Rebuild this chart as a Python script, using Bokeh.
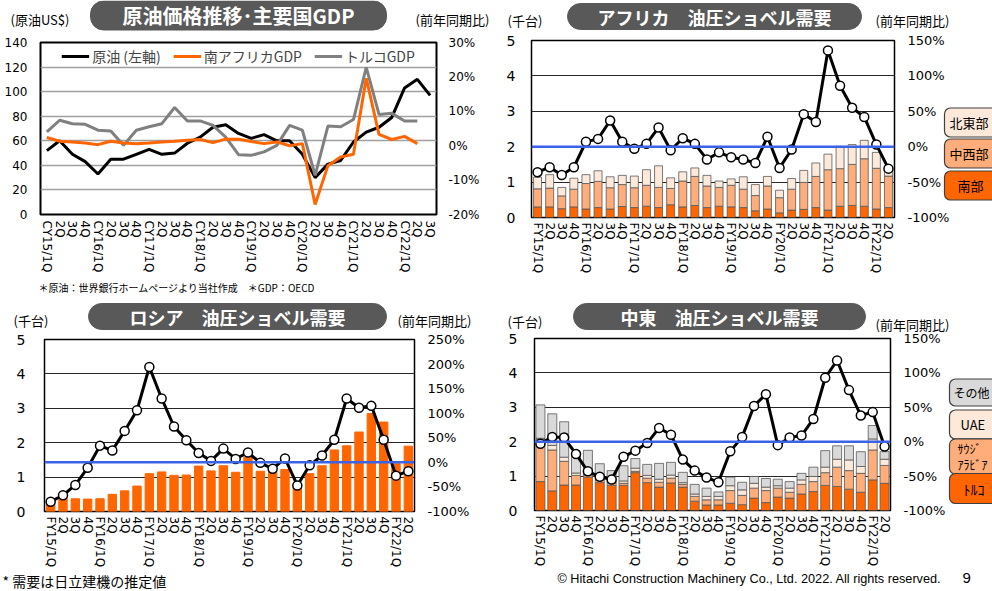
from bokeh.plotting import figure
from bokeh.models import (Range1d, LinearAxis, FixedTicker, PrintfTickFormatter, Label,
                          Span, ColumnDataSource, Legend, LegendItem, GridBox)
from bokeh.embed import file_html
from bokeh.resources import INLINE

NAN = float("nan")
JP = "Noto Sans CJK JP"
NUM = "DejaVu Sans"
PAGE_W, PAGE_H = 992, 591

# ---------------- data ----------------
cy_labels = ["CY15/1Q", "2Q", "3Q", "4Q", "CY16/1Q", "2Q", "3Q", "4Q", "CY17/1Q", "2Q", "3Q", "4Q",
             "CY18/1Q", "2Q", "3Q", "4Q", "CY19/1Q", "2Q", "3Q", "4Q", "CY20/1Q", "2Q", "3Q", "4Q",
             "CY21/1Q", "2Q", "3Q", "4Q", "CY22/1Q", "2Q", "3Q"]
fy_labels = ["FY15/1Q", "2Q", "3Q", "4Q", "FY16/1Q", "2Q", "3Q", "4Q", "FY17/1Q", "2Q", "3Q", "4Q",
             "FY18/1Q", "2Q", "3Q", "4Q", "FY19/1Q", "2Q", "3Q", "4Q", "FY20/1Q", "2Q", "3Q", "4Q",
             "FY21/1Q", "2Q", "3Q", "4Q", "FY22/1Q", "2Q"]

oil_price = [52, 60, 49, 43, 33, 45, 45, 49, 53, 49, 50, 58, 63, 71, 73, 66, 62, 65, 60, 60,
             49, 30, 41, 44, 59, 67, 71, 79, 103, 110, 97]
south_africa_gdp = [2.4, 1.3, 1.1, 0.8, 0.3, 1.3, 0.8, 0.6, 0.8, 1.1, 1.3, 1.6, 1.8, 0.9, 1.9, 1.9,
                    1.2, 0.6, 1.1, 0.0, 0.6, -17.1, -5.8, -3.3, -2.5, 19.6, 3.3, 1.8, 2.7, 0.6, NAN]
turkey_gdp = [4.0, 7.4, 6.4, 6.2, 4.5, 4.3, 0.1, 4.5, 5.5, 6.4, 11.1, 7.2, 7.2, 5.9, 2.5, -2.6,
              -2.8, -1.8, 0.1, 5.9, 4.5, -8.6, 5.7, 5.5, 7.6, 22.8, 9.1, 9.4, 7.2, 7.2, NAN]

af_south = [0.30, 0.30, 0.25, 0.30, 0.24, 0.28, 0.24, 0.31, 0.28, 0.32, 0.28, 0.36, 0.30, 0.34, 0.28,
            0.32, 0.30, 0.28, 0.19, 0.24, 0.13, 0.21, 0.23, 0.28, 0.21, 0.32, 0.34, 0.32, 0.24, 0.28]
af_midwest = [0.51, 0.53, 0.36, 0.50, 0.72, 0.74, 0.60, 0.62, 0.56, 0.59, 0.57, 0.46, 0.73, 0.82, 0.61,
              0.53, 0.61, 0.52, 0.43, 0.65, 0.43, 0.59, 0.76, 0.88, 1.14, 1.06, 1.16, 1.34, 1.15, 0.89]
af_northeast = [0.33, 0.38, 0.24, 0.31, 0.25, 0.30, 0.31, 0.26, 0.33, 0.44, 0.61, 0.30, 0.26, 0.24, 0.30,
                0.18, 0.18, 0.35, 0.31, 0.27, 0.21, 0.30, 0.34, 0.38, 0.44, 0.63, 0.56, 0.52, 0.45, 0.16]
af_yoy = [-36, -29, -40, -29, 7, 11, 37, 7, -3, 4, 27, -5, 12, 4, -18, -8, -15, -18, -23, 14,
          -30, -4, 46, 35, 136, 86, 55, 42, 3, -31]

ru_demand = [0.29, 0.44, 0.37, 0.36, 0.37, 0.50, 0.60, 0.74, 1.10, 1.15, 1.05, 1.06, 1.32, 1.18, 1.33,
             1.14, 1.58, 1.17, 1.17, 1.22, 0.80, 1.10, 1.33, 1.79, 1.91, 2.31, 2.85, 2.60, 1.39, 1.90]
ru_yoy = [-80, -67, -46, -11, 34, 24, 64, 106, 194, 130, 73, 45, 19, 3, 28, 7, 20, -1, -13, 8,
          -47, -6, 14, 46, 130, 111, 115, 46, -27, -18]

me_turkey = [0.84, 0.57, 0.74, 0.74, 0.97, 0.81, 0.73, 0.73, 1.10, 0.81, 0.68, 0.80, 0.68, 0.27, 0.16,
             0.16, 0.21, 0.17, 0.36, 0.23, 0.39, 0.36, 0.48, 0.55, 0.73, 0.70, 0.62, 0.53, 0.89, 0.79]
me_saudi = [1.23, 1.19, 0.69, 0.28, 0.06, 0.08, 0.06, 0.06, 0.04, 0.13, 0.14, 0.14, 0.08, 0.14, 0.15,
            0.15, 0.37, 0.27, 0.29, 0.35, 0.26, 0.17, 0.28, 0.29, 0.37, 0.56, 0.54, 0.55, 0.87, 0.52]
me_uae = [0.03, 0.13, 0.12, 0.07, 0.03, 0.07, 0.05, 0.07, 0.09, 0.08, 0.09, 0.09, 0.05, 0.07, 0.10,
          0.10, 0.14, 0.16, 0.14, 0.10, 0.07, 0.12, 0.13, 0.15, 0.16, 0.23, 0.31, 0.20, 0.32, 0.18]
me_other = [0.97, 0.92, 1.03, 0.59, 0.69, 0.40, 0.32, 0.44, 0.28, 0.32, 0.46, 0.37, 0.30, 0.28, 0.24,
            0.13, 0.25, 0.22, 0.20, 0.25, 0.19, 0.19, 0.19, 0.27, 0.48, 0.39, 0.41, 0.43, 0.39, 0.22]
me_yoy = [-3, 7, 6, -18, -43, -51, -55, -22, -13, -2, 20, 10, -26, -42, -52, -59, -14, 7, 52, 69,
          -5, 6, 9, 33, 93, 118, 75, 38, 43, -7]

ORANGE = "#ff6600"
MIDOR = "#ffad7a"
PEACH = "#fde9d9"
GRAY = "#d9d9d9"
BLUE = "#3a63e8"


def style_axis(ax, size, standoff):
    ax.axis_line_color = None
    ax.major_tick_line_color = None
    ax.minor_tick_line_color = None
    ax.major_tick_out = 0
    ax.major_tick_in = 0
    ax.major_label_text_font = NUM
    ax.major_label_text_font_size = f"{size}px"
    ax.major_label_text_color = "black"
    ax.major_label_standoff = standoff


def base_fig(w, h, bl, br, bt, bb, labels, ymax, ystep, ysize, ystand,
             pmin, pmax, pstep, psize, pstand, grid_color, grid_width, xstand):
    n = len(labels)
    p = figure(width=w, height=h, output_backend="svg", toolbar_location=None,
               x_range=Range1d(-0.5, n - 0.5), y_range=Range1d(0, ymax),
               min_border_left=bl, min_border_right=br, min_border_top=bt, min_border_bottom=bb,
               background_fill_color="white", border_fill_color="white")
    p.frame_align = False
    p.title.visible = False
    p.outline_line_color = "black"
    p.outline_line_width = 1.5
    p.extra_y_ranges = {"pct": Range1d(pmin, pmax)}
    p.xaxis.ticker = FixedTicker(ticks=list(range(n)))
    p.xaxis.major_label_overrides = {i: lab for i, lab in enumerate(labels)}
    p.xaxis.major_label_orientation = "vertical"
    style_axis(p.xaxis[0], 12, xstand)
    yt = []
    v = 0
    while v <= ymax + 1e-9:
        yt.append(v)
        v += ystep
    p.yaxis.ticker = FixedTicker(ticks=yt)
    style_axis(p.yaxis[0], ysize, ystand)
    pt = []
    v = pmin
    while v <= pmax + 1e-9:
        pt.append(v)
        v += pstep
    rax = LinearAxis(y_range_name="pct", ticker=FixedTicker(ticks=pt),
                     formatter=PrintfTickFormatter(format="%d%%"))
    style_axis(rax, psize, pstand)
    p.add_layout(rax, "right")
    p.xgrid.visible = False
    p.ygrid.grid_line_color = grid_color
    p.ygrid.grid_line_width = grid_width
    return p


def yoy_line(p, xs, ys):
    src = ColumnDataSource(dict(x=xs, y=ys))
    p.line("x", "y", source=src, y_range_name="pct", line_color="black", line_width=3)
    p.scatter("x", "y", source=src, y_range_name="pct", marker="circle", size=9,
              fill_color="white", line_color="black", line_width=1.5)


def zero_span(p):
    p.add_layout(Span(location=0, dimension="width", y_range_name="pct",
                      line_color=BLUE, line_width=2.5))


# ---------------- panel 1: oil & GDP ----------------
p1 = base_fig(495, 300, 40, 59, 42, 86, cy_labels, 140, 20, 12, 13, -20, 30, 10, 12, 12,
              "#a0a0a0", 1.5, 6)
p1.outline_line_width = 2
x1 = list(range(len(cy_labels)))
r_oil = p1.line(x1, oil_price, line_color="black", line_width=3)
r_tr = p1.line(x1, turkey_gdp, y_range_name="pct", line_color="#808080", line_width=3)
r_sa = p1.line(x1, south_africa_gdp, y_range_name="pct", line_color=ORANGE, line_width=3)
leg = Legend(items=[LegendItem(label="原油 (左軸)", renderers=[r_oil]),
                    LegendItem(label="南アフリカGDP", renderers=[r_sa]),
                    LegendItem(label="トルコGDP", renderers=[r_tr])],
             location="top_center", orientation="horizontal")
leg.label_text_font = JP
leg.label_text_font_size = "14px"
leg.glyph_width = 28
leg.label_standoff = 3
leg.spacing = 12
leg.padding = 2
leg.margin = 4
leg.border_line_color = None
leg.background_fill_alpha = 1.0
p1.add_layout(leg)

# ---------------- panel 2: Africa ----------------
p2 = base_fig(497, 300, 36, 98, 40, 83, fy_labels, 5, 1, 14, 16, -100, 150, 50, 13, 13,
              "#262626", 1, 5)
x2 = list(range(len(fy_labels)))
src2 = ColumnDataSource(dict(x=x2, south=af_south, midwest=af_midwest, northeast=af_northeast))
p2.vbar_stack(["south", "midwest", "northeast"], x="x", width=0.66, source=src2,
              color=[ORANGE, MIDOR, PEACH], line_color="#595959", line_width=0.8)
zero_span(p2)
yoy_line(p2, x2, af_yoy)

# ---------------- panel 3: Russia ----------------
p3 = base_fig(495, 291, 44, 81, 39, 80, fy_labels, 5, 1, 14, 19, -100, 250, 50, 13, 13,
              "#262626", 1, 5)
x3 = list(range(len(fy_labels)))
p3.vbar(x=x3, top=ru_demand, width=0.68, color=ORANGE)
zero_span(p3)
yoy_line(p3, x3, ru_yoy)

# ---------------- panel 4: Middle East ----------------
p4 = base_fig(497, 291, 39, 102, 38, 81, fy_labels, 5, 1, 14, 17, -100, 150, 50, 13, 13,
              "#262626", 1, 5)
x4 = list(range(len(fy_labels)))
src4 = ColumnDataSource(dict(x=x4, turkey=me_turkey, saudi=me_saudi, uae=me_uae, other=me_other))
p4.vbar_stack(["turkey", "saudi", "uae", "other"], x="x", width=0.76, source=src4,
              color=[ORANGE, MIDOR, PEACH, GRAY], line_color="#595959", line_width=0.8)
zero_span(p4)
yoy_line(p4, x4, me_yoy)

# ---------------- overlay for titles / notes / side legends ----------------
ov = figure(width=PAGE_W, height=PAGE_H, output_backend="svg", toolbar_location=None,
            x_range=Range1d(0, PAGE_W), y_range=Range1d(0, PAGE_H),
            x_axis_location=None, y_axis_location=None,
            min_border_left=0, min_border_right=0, min_border_top=0, min_border_bottom=0)
ov.frame_align = False
ov.title.visible = False
ov.outline_line_color = None
ov.background_fill_alpha = 0
ov.border_fill_alpha = 0
for g in ov.grid:
    g.visible = False


def text(x, y, t, size=13, font=JP, color="black", align="left"):
    ov.add_layout(Label(x=x, y=PAGE_H - y, x_units="screen", y_units="screen", text=t,
                        text_font=font, text_font_size=f"{size}px", text_color=color,
                        text_align=align, text_baseline="middle"))


def pill(cx, cy, t, hpad, size=18, vpad=0):
    ov.add_layout(Label(x=cx, y=PAGE_H - cy, x_units="screen", y_units="screen", text=t,
                        text_font=JP, text_font_size=f"{size}px", text_color="white",
                        text_font_style="bold", text_align="center", text_baseline="middle",
                        background_fill_color="#595959", border_line_color="#595959",
                        border_radius=13,
                        padding=dict(left=hpad, right=hpad, top=vpad, bottom=vpad)))


def legend_box(box_left, cy, t, fill, lpad, size=13, vpad=5, lh=1.0):
    # box_left is the outer left edge of the box; the text starts lpad to its right
    ov.add_layout(Label(x=box_left, y=PAGE_H - cy, x_units="screen", y_units="screen", text=t,
                        text_font=JP, text_font_size=f"{size}px", text_color="black",
                        text_align="left", text_baseline="middle", text_line_height=lh,
                        background_fill_color=fill, border_line_color="#404040",
                        border_line_width=1.2, border_radius=6,
                        padding=dict(left=lpad, right=40, top=vpad, bottom=vpad)))


# panel 1 texts
pill(238, 15, "原油価格推移･主要国GDP", 32, 20)
text(10, 19, "(原油US$)")
text(415, 19, "(前年同期比)")
text(38, 287, "＊原油：世界銀行ホームページより当社作成　＊GDP：OECD", size=10)
# panel 2 texts
pill(714, 16, "アフリカ　油圧ショベル需要", 30, 18)
text(507, 20, "(千台)")
text(875, 20, "(前年同期比)")
legend_box(944, 122, "北東部", PEACH, 5)
legend_box(944, 153, "中西部", MIDOR, 5)
legend_box(944, 185, "南部", ORANGE, 13)
# panel 3 texts
pill(237, 316, "ロシア　油圧ショベル需要", 41, 18)
text(13, 320, "(千台)")
text(397, 320, "(前年同期比)")
text(2, 580, "* 需要は日立建機の推定値", size=14)
# panel 4 texts
pill(719, 316, "中東　油圧ショベル需要", 47, 18)
text(507, 321, "(千台)")
text(875, 324, "(前年同期比)")
legend_box(949, 392, "その他", GRAY, 4, size=12)
legend_box(949, 424, "UAE", PEACH, 11)
legend_box(949, 456, "ｻｳｼﾞ\nｱﾗﾋﾞｱ", MIDOR, 8, size=12, vpad=1, lh=0.95)
legend_box(949, 488, "ﾄﾙｺ", ORANGE, 14, size=14)
text(557, 578, "© Hitachi Construction Machinery Co., Ltd. 2022. All rights reserved.",
     size=12.7, font="Liberation Sans")
text(962, 577, "9", size=15, font="Liberation Sans")

layout = GridBox(children=[(p1, 0, 0), (p2, 0, 1), (p3, 1, 0), (p4, 1, 1), (ov, 0, 0, 2, 2)],
                 rows=["300px", "291px"], cols=["495px", "497px"], spacing=0)
open("out.html", "w").write(file_html(layout, INLINE))
